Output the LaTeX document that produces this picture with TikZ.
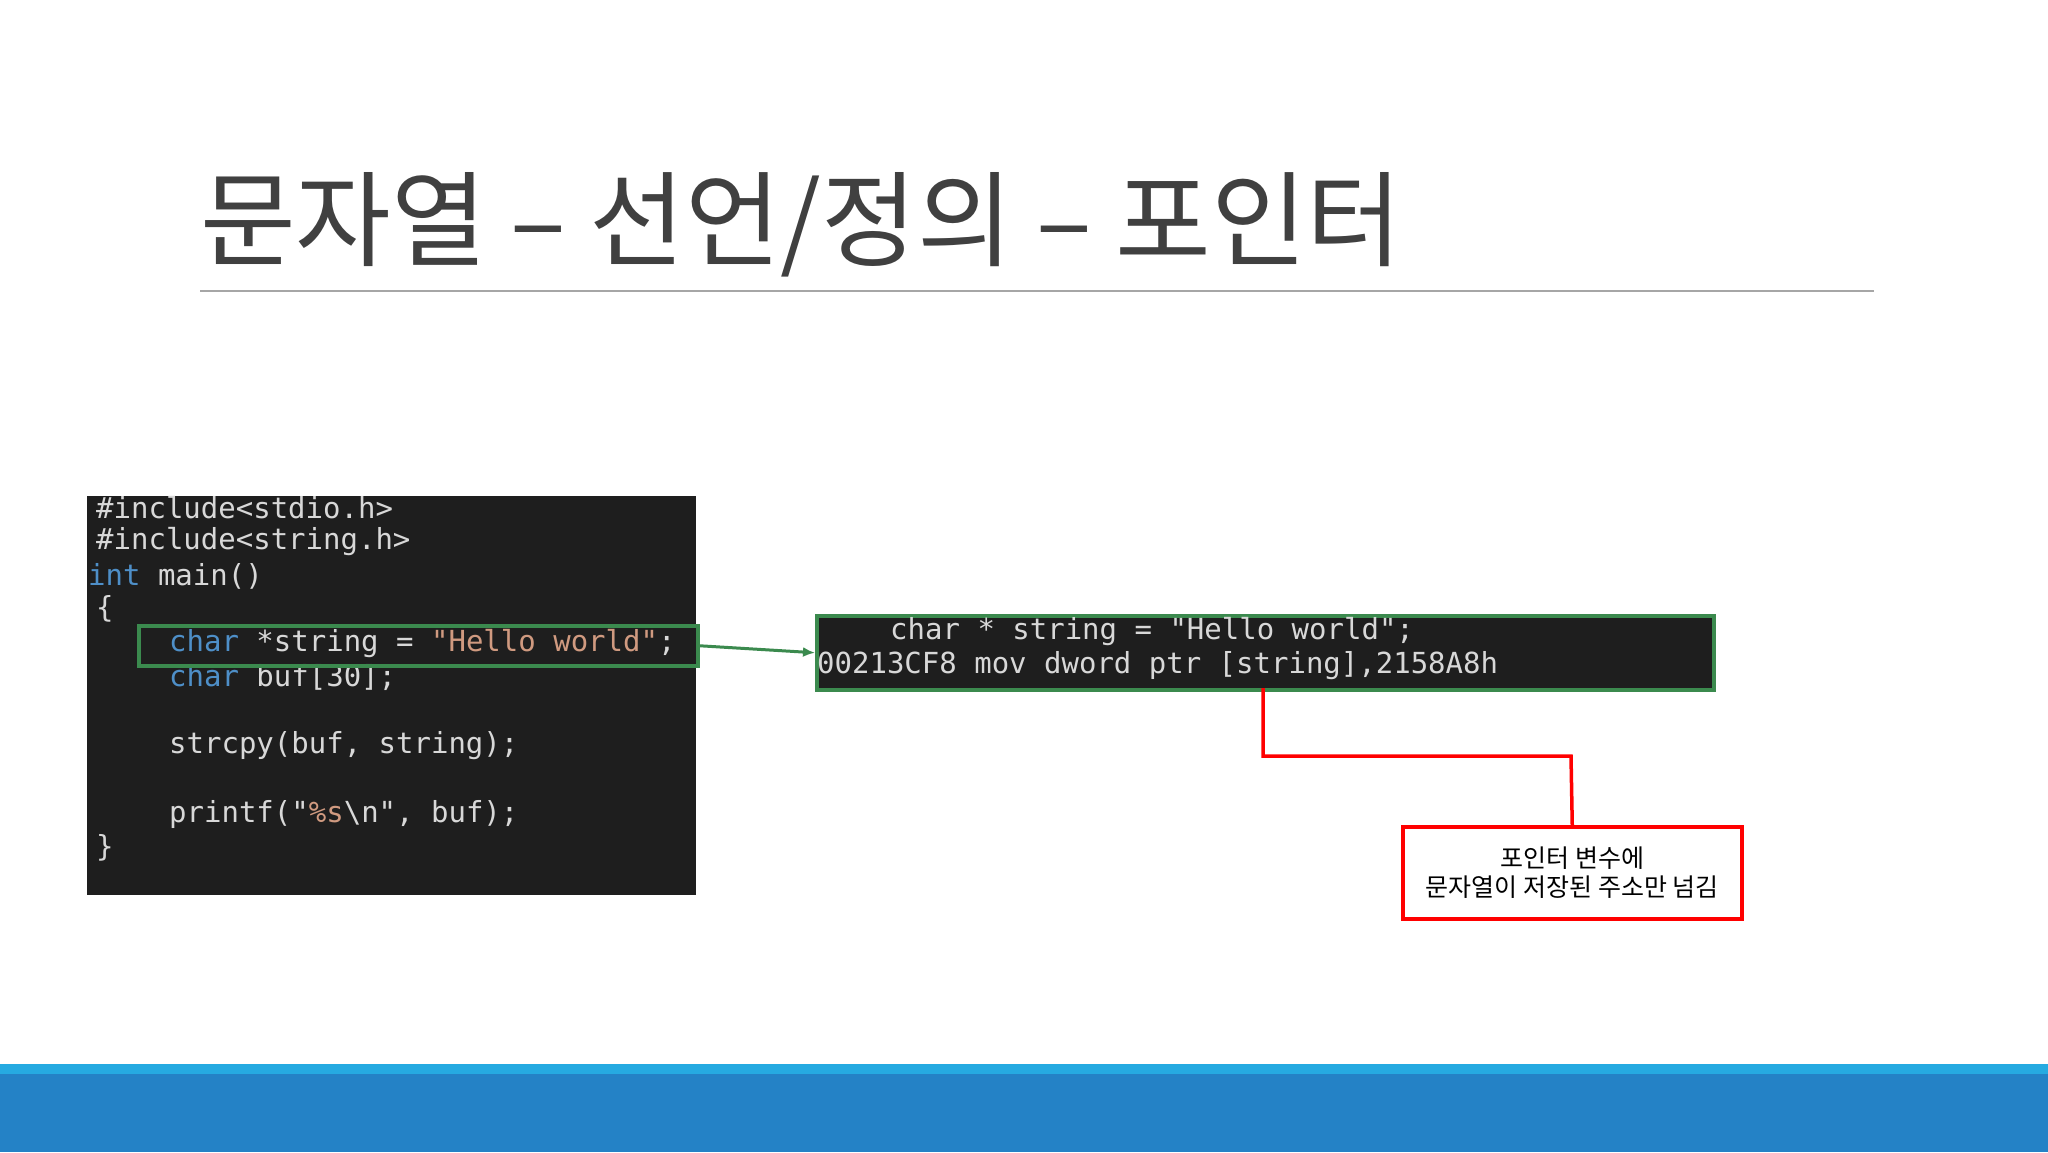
\documentclass[tikz,border=0pt]{standalone}
\usepackage{fontspec}
\usetikzlibrary{arrows.meta}
\newfontfamily\kr{Noto Sans CJK KR}
\setmonofont{DejaVu Sans Mono}
\definecolor{bgdark}{HTML}{1E1E1E}
\definecolor{kw}{HTML}{4E8FC8}
\definecolor{strc}{HTML}{D09A80}
\definecolor{codefg}{HTML}{D8D8D8}
\definecolor{gbox}{HTML}{3B8A4E}
\definecolor{titlec}{HTML}{404040}
\definecolor{bardark}{HTML}{2482C6}
\definecolor{barlight}{HTML}{26AAE1}
\begin{document}
\begin{tikzpicture}[x=1pt,y=-1pt,
  codeline/.style={anchor=west,inner sep=0,font=\ttfamily\fontsize{29}{29}\selectfont,text=codefg},
  redln/.style={draw=red,line width=3.5pt}]
\useasboundingbox (0,0) rectangle (2048,1152);
\fill[white] (0,0) rectangle (2048,1152);
% title
\node[anchor=base west,inner sep=0,text=titlec,font=\kr\fontsize{104}{104}\selectfont] (title) at (200,258) {문자열 – 선언/정의 – 포인터};
\draw[gray!70,line width=1.5pt] (200,291) -- (1874,291);
% bottom bars
\fill[barlight] (0,1064) rectangle (2048,1074);
\fill[bardark] (0,1074) rectangle (2048,1152);
% code box
\node[fill=bgdark,minimum width=609,minimum height=399,anchor=north west,inner sep=0] (code) at (87,496) {};
\node[codeline] (l1) at (96,508) {\#include<stdio.h>};
\node[codeline] (l2) at (96,542) {\#include<string.h>};
\node[codeline] (l3) at (88,576) {\textcolor{kw}{int} main()};
\node[codeline] (l4) at (96,609) {\{};
\node[codeline] (l5) at (169,644) {\textcolor{kw}{char} *string = \textcolor{strc}{"Hello world"};};
\node[codeline] (l6) at (169,678) {\textcolor{kw}{char} buf[30];};
\node[codeline] (l7) at (169,746) {strcpy(buf, string);};
\node[codeline] (l8) at (169,814) {printf("\textcolor{strc}{\%s}\textbackslash n", buf);};
\node[codeline] (l9) at (96,848) {\}};
\node[draw=gbox,line width=3.5pt,minimum width=559,minimum height=40,anchor=north west,inner sep=0] (hl) at (137,624) {};
% asm box
\node[fill=bgdark,draw=gbox,line width=3.5pt,minimum width=897,minimum height=74,anchor=north west,inner sep=0] (asm) at (815,614) {};
\node[codeline] (a1) at (890,632) {char * string = "Hello world";};
\node[codeline] (a2) at (817,666) {00213CF8  mov         dword ptr [string],2158A8h};
\draw[gbox,line width=3pt,-{Latex[length=12pt,width=10pt]}] (hl.east) -- (asm.west);
% red note
\node[redln,minimum width=339,minimum height=92,anchor=north west,inner sep=0,align=center,font=\kr\fontsize{25}{29}\selectfont] (note) at (1401,825) {포인터 변수에\\문자열이 저장된 주소만 넘김};
\coordinate (c0) at (1263,688);
\coordinate (c1) at (1263,756);
\coordinate (c2) at (1571,756);
\draw[redln] (c0) -- (c1) -- (c2) -- (note.north);
\end{tikzpicture}
\end{document}
